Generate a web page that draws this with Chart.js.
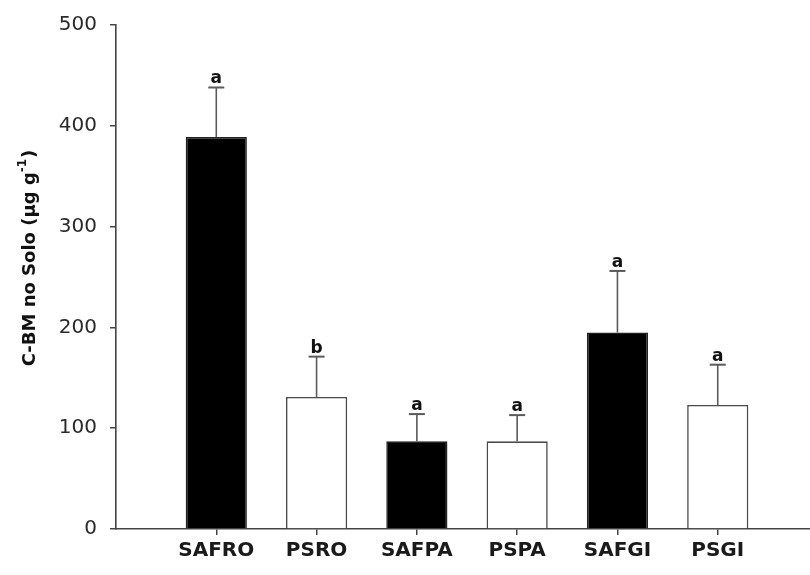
<!DOCTYPE html>
<html>
<head>
<meta charset="utf-8">
<script src="https://cdn.jsdelivr.net/npm/chart.js@4/dist/chart.umd.min.js"></script>
<style>
  html, body { margin: 0; padding: 0; background: #fff; }
  canvas { display: block; }
</style>
</head>
<body>
<canvas id="c" width="810" height="575"></canvas>
<script>
// Treatments along the x axis
const categories = ['SAFRO', 'PSRO', 'SAFPA', 'PSPA', 'SAFGI', 'PSGI'];
// Mean microbial biomass carbon (µg g-1)
const means = [389, 131, 87, 87, 195, 123];
// Standard error added above each mean
const errors = [49, 40, 27, 26, 61, 40];
// Significance letters printed above each error bar
const letters = ['a', 'b', 'a', 'a', 'a', 'a'];
// Y axis tick values
const yTicks = [0, 100, 200, 300, 400, 500];

const TICK_FONT = 'DejaVu Sans';
const isAgroforestry = name => name.startsWith('SAF');

// Error bars with caps plus the letter above each one
const errorBarPlugin = {
  id: 'errorBars',
  afterDatasetsDraw(chart) {
    const ctx = chart.ctx;
    const y = chart.scales.y;
    const meta = chart.getDatasetMeta(0);
    ctx.save();
    meta.data.forEach((bar, i) => {
      const x = bar.x;
      const top = y.getPixelForValue(means[i] + errors[i]);
      const base = y.getPixelForValue(means[i]);
      ctx.strokeStyle = '#5a5a5a';
      ctx.lineWidth = 1.6;
      ctx.beginPath();
      ctx.moveTo(x, base);
      ctx.lineTo(x, top);
      ctx.stroke();
      ctx.lineWidth = 2;
      ctx.beginPath();
      ctx.moveTo(x - 8, top);
      ctx.lineTo(x + 8, top);
      ctx.stroke();
      ctx.fillStyle = '#111';
      ctx.font = 'bold 17px "' + TICK_FONT + '"';
      ctx.textAlign = 'center';
      ctx.textBaseline = 'alphabetic';
      ctx.fillText(letters[i], x, top - 4);
    });
    ctx.restore();
  }
};

// Rotated y-axis title with a superscript exponent
const yTitlePlugin = {
  id: 'yTitle',
  afterDraw(chart) {
    const ctx = chart.ctx;
    const main = 'C-BM no Solo (µg g';
    const sup = '-1';
    const close = ')';
    const mainFont = 'bold 18px "' + TICK_FONT + '"';
    const supFont = 'bold 12px "' + TICK_FONT + '"';
    ctx.save();
    ctx.font = mainFont;
    const wMain = ctx.measureText(main).width;
    const wClose = ctx.measureText(close).width;
    ctx.font = supFont;
    const wSup = ctx.measureText(sup).width;
    const total = wMain + wSup + wClose + 1;
    ctx.translate(30, 258);
    ctx.rotate(-Math.PI / 2);
    ctx.fillStyle = '#111';
    ctx.textBaseline = 'middle';
    ctx.textAlign = 'left';
    let xPos = -total / 2;
    ctx.font = mainFont;
    ctx.fillText(main, xPos, 0);
    xPos += wMain;
    ctx.font = supFont;
    ctx.fillText(sup, xPos, -7);
    xPos += wSup + 1;
    ctx.font = mainFont;
    ctx.fillText(close, xPos, 0);
    ctx.restore();
  }
};

new Chart(document.getElementById('c'), {
  type: 'bar',
  data: {
    datasets: [{
      data: categories.map((c, i) => ({ x: i + 1, y: means[i] })),
      backgroundColor: categories.map(c => isAgroforestry(c) ? '#000000' : '#ffffff'),
      borderColor: categories.map(c => isAgroforestry(c) ? '#222222' : '#4a4a4a'),
      borderWidth: 1.6,
      borderSkipped: 'bottom',
      barPercentage: 0.61,
      categoryPercentage: 1
    }]
  },
  options: {
    responsive: false,
    animation: false,
    events: [],
    layout: { padding: { top: 22, left: 0, right: 0, bottom: 0 } },
    plugins: { legend: { display: false }, tooltip: { enabled: false } },
    scales: {
      x: {
        type: 'linear',
        offset: false,
        min: 0,
        max: 6.92,
        afterBuildTicks: axis => { axis.ticks = categories.map((c, i) => ({ value: i + 1 })); },
        afterFit: axis => { axis.height = 46; },
        ticks: {
          autoSkip: false,
          maxRotation: 0,
          padding: 4,
          color: '#1a1a1a',
          font: { family: TICK_FONT, size: 20, weight: 'bold' },
          callback: v => categories[v - 1] || ''
        },
        grid: { offset: false, drawOnChartArea: false, drawTicks: true, tickLength: 6, color: '#444', lineWidth: 1.5 },
        border: { display: true, color: '#444', width: 1.6 }
      },
      y: {
        min: 0,
        max: 500,
        afterBuildTicks: axis => { axis.ticks = yTicks.map(v => ({ value: v })); },
        afterFit: axis => { axis.width = 116; },
        ticks: {
          padding: 13,
          color: '#2a2a2a',
          font: { family: TICK_FONT, size: 20 }
        },
        grid: { drawOnChartArea: false, drawTicks: true, tickLength: 6, color: '#444', lineWidth: 1.5 },
        border: { display: true, color: '#444', width: 1.6 }
      }
    }
  },
  plugins: [errorBarPlugin, yTitlePlugin]
});
</script>
</body>
</html>
